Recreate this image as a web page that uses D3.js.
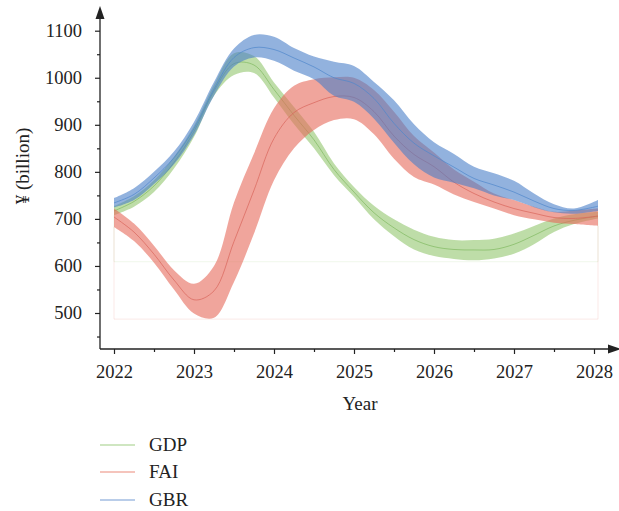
<!DOCTYPE html>
<html>
<head>
<meta charset="utf-8">
<script src="https://cdn.jsdelivr.net/npm/d3@7"></script>
<style>
	body { margin: 0; background: #fff; }
	text { font-family: "Liberation Serif", "DejaVu Serif", serif; fill: #222; }
</style>
</head>
<body>
<div id="chart"></div>
<script>
// quarter-year samples
var years = [2022, 2022.25, 2022.5, 2022.75, 2023, 2023.25, 2023.5, 2023.75, 2024, 2024.25, 2024.5, 2024.75,
	2025, 2025.25, 2025.5, 2025.75, 2026, 2026.25, 2026.5, 2026.75, 2027, 2027.25, 2027.5, 2027.75, 2028.05];

var gdpMid  = [717, 737, 770, 820, 886, 972, 1030, 1027, 975, 920, 868, 805, 757, 713, 681, 656, 641, 635, 634, 635, 646, 665, 685, 697, 706];
var gdpHigh = [727, 748, 782, 832, 898, 985, 1052, 1046, 990, 938, 885, 818, 768, 728, 699, 677, 662, 655, 655, 658, 669, 685, 701, 710, 715];
var gdpLow  = [708, 726, 757, 807, 874, 962, 1006, 1010, 958, 901, 850, 793, 747, 699, 663, 635, 621, 615, 612, 616, 626, 646, 672, 689, 701];

var faiMid  = [704, 672, 625, 570, 528, 547, 652, 761, 871, 926, 947, 960, 958, 928, 876, 837, 811, 778, 754, 736, 722, 712, 703, 701, 706];
var faiHigh = [722, 690, 643, 591, 562, 600, 735, 839, 935, 983, 997, 1001, 1000, 974, 928, 876, 841, 805, 779, 754, 740, 726, 715, 718, 722];
var faiLow  = [683, 653, 607, 550, 499, 490, 566, 669, 782, 850, 889, 910, 912, 880, 828, 789, 773, 752, 736, 722, 708, 699, 692, 689, 685];

var gbrMid  = [734, 752, 787, 830, 892, 976, 1043, 1064, 1060, 1042, 1023, 1000, 988, 956, 903, 861, 834, 810, 786, 772, 757, 738, 722, 718, 727];
var gbrHigh = [744, 765, 800, 843, 906, 991, 1062, 1091, 1087, 1063, 1045, 1034, 1025, 991, 952, 901, 863, 838, 811, 797, 781, 754, 731, 722, 740];
var gbrLow  = [724, 740, 774, 816, 878, 962, 1024, 1043, 1036, 1015, 997, 962, 949, 913, 862, 816, 788, 777, 765, 750, 740, 725, 714, 711, 717];

var yearTicks = [2022, 2023, 2024, 2025, 2026, 2027, 2028];
var yearMinor = [2022.5, 2023.5, 2024.5, 2025.5, 2026.5, 2027.5];
var valueTicks = [500, 600, 700, 800, 900, 1000, 1100];
var valueMinor = [450, 550, 650, 750, 850, 950, 1050];

var series = [
	{ name: "GDP", mid: gdpMid, high: gdpHigh, low: gdpLow, fill: "#93c66e", line: "#80b960", key: "#bfdeac", base: true },
	{ name: "FAI", mid: faiMid, high: faiHigh, low: faiLow, fill: "#e6695a", line: "#d9645a", key: "#f2b0a6", base: true },
	{ name: "GBR", mid: gbrMid, high: gbrHigh, low: gbrLow, fill: "#4a7fc8", line: "#4f86cc", key: "#a2bde2", base: false }
];

var width = 619, height = 511;
var axisX = 100, axisY = 349;
var svg = d3.select("#chart").append("svg").attr("width", width).attr("height", height);

var x = d3.scaleLinear().domain([2022, 2028]).range([114, 594]);
var y = d3.scaleLinear().domain([500, 1100]).range([313, 30.7]);

// faint base outlines under the bands
series.filter((s) => s.base).forEach(function (s) {
	var n = years.length - 1;
	var base = d3.min(s.low) - 3;
	var pts = [[years[0], s.low[0]], [years[0], base], [years[n], base], [years[n], s.low[n]]];
	svg.append("path")
		.attr("d", d3.line().x((d) => x(d[0])).y((d) => y(d[1]))(pts))
		.attr("fill", "none")
		.attr("stroke", s.fill)
		.attr("stroke-opacity", 0.14)
		.attr("stroke-width", 1);
});

// bands and centre lines
series.forEach(function (s) {
	var area = d3.area()
		.x((d, i) => x(years[i]))
		.y0((d, i) => y(s.low[i]))
		.y1((d, i) => y(s.high[i]))
		.curve(d3.curveCatmullRom);
	svg.append("path")
		.attr("d", area(years))
		.attr("fill", s.fill)
		.attr("fill-opacity", 0.6);

	var line = d3.line()
		.x((d, i) => x(years[i]))
		.y((d, i) => y(s.mid[i]))
		.curve(d3.curveCatmullRom);
	svg.append("path")
		.attr("d", line(years))
		.attr("fill", "none")
		.attr("stroke", s.line)
		.attr("stroke-width", 0.7);
});

// X-axis
var gx = svg.append("g").attr("transform", `translate(0, ${axisY})`);
gx.call(d3.axisBottom(x).tickValues(yearTicks).tickFormat(d3.format("d")).tickSize(5).tickPadding(11).tickSizeOuter(0));
gx.append("g").call(d3.axisBottom(x).tickValues(yearMinor).tickFormat("").tickSize(3).tickSizeOuter(0));
gx.selectAll(".domain").remove();
gx.selectAll("text").style("font-size", "18.5px").attr("fill", "#222");
gx.selectAll("line").attr("stroke", "#222").attr("stroke-width", 1.2);

// Y-axis
var gy = svg.append("g").attr("transform", `translate(${axisX}, 0)`);
gy.call(d3.axisLeft(y).tickValues(valueTicks).tickFormat(d3.format("d")).tickSize(5).tickPadding(13).tickSizeOuter(0));
gy.append("g").call(d3.axisLeft(y).tickValues(valueMinor).tickFormat("").tickSize(3).tickSizeOuter(0));
gy.selectAll(".domain").remove();
gy.selectAll("text").style("font-size", "18.5px").attr("fill", "#222");
gy.selectAll("line").attr("stroke", "#222").attr("stroke-width", 1.2);

// axis lines with arrow heads
svg.append("line").attr("x1", axisX).attr("y1", axisY).attr("x2", axisX).attr("y2", 16)
	.attr("stroke", "#222").attr("stroke-width", 1.3);
svg.append("path").attr("d", `M${axisX - 4.5},19L${axisX + 4.5},19L${axisX},6Z`).attr("fill", "#222");
svg.append("line").attr("x1", axisX).attr("y1", axisY).attr("x2", 610).attr("y2", axisY)
	.attr("stroke", "#222").attr("stroke-width", 1.3);
svg.append("path").attr("d", `M608,${axisY - 4.5}L608,${axisY + 4.5}L621,${axisY}Z`).attr("fill", "#222");

// axis labels
svg.append("text")
	.attr("x", 360)
	.attr("y", 410)
	.attr("text-anchor", "middle")
	.attr("font-size", "19px")
	.text("Year");
svg.append("text")
	.attr("transform", "translate(29, 166) rotate(-90)")
	.attr("text-anchor", "middle")
	.attr("font-size", "19px")
	.text("¥ (billion)");

// legend
var legendY = [445, 472, 500];
series.forEach(function (s, i) {
	svg.append("line")
		.attr("x1", 100).attr("x2", 135)
		.attr("y1", legendY[i]).attr("y2", legendY[i])
		.attr("stroke", s.key)
		.attr("stroke-width", 1.4);
	svg.append("text")
		.attr("x", 149)
		.attr("y", legendY[i] + 6)
		.attr("font-size", "19px")
		.text(s.name);
});
</script>
</body>
</html>
